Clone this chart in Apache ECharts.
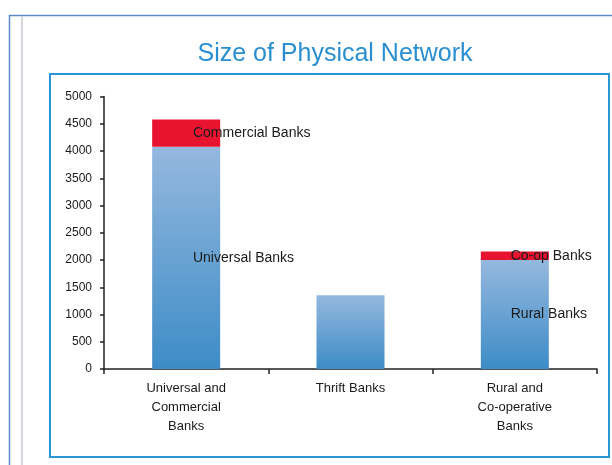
<!DOCTYPE html>
<html>
<head>
<meta charset="utf-8">
<script src="https://cdn.jsdelivr.net/npm/echarts@6/dist/echarts.min.js"></script>
<style>html,body{margin:0;padding:0;background:#fff}#c{width:612px;height:465px}</style>
</head>
<body>
<div id="c"></div>
<script>
const categories = ['Universal and\nCommercial\nBanks', 'Thrift Banks', 'Rural and\nCo-operative\nBanks'];
const baseValues = [4080, 1355, 2000];
const topValues = [500, null, 155];
const baseLabels = ['Universal Banks', '', 'Rural Banks'];
const topLabels = ['Commercial Banks', '', 'Co-op Banks'];
const yTicks = [0, 500, 1000, 1500, 2000, 2500, 3000, 3500, 4000, 4500, 5000];

const labelX = ['60%', '50%', '44%'];
const FONT = '"Liberation Sans", Arial, sans-serif';

function mkData(vals, labels) {
  return vals.map((v, i) => ({
    value: v,
    label: labels[i] ? {
      show: true,
      formatter: labels[i],
      position: [labelX[i], '50%'],
      align: 'left',
      verticalAlign: 'middle',
      color: '#1a1a1a',
      fontSize: 14,
      fontFamily: FONT
    } : { show: false }
  }));
}

const chart = echarts.init(document.getElementById('c'), null, { renderer: 'canvas' });
chart.setOption({
  animation: false,
  backgroundColor: '#fff',
  title: {
    text: 'Size of Physical Network',
    left: 330,
    top: 37,
    textAlign: 'center',
    textStyle: { color: '#2a8fd0', fontSize: 25, fontWeight: 'normal', fontFamily: FONT }
  },
  graphic: [
    { type: 'rect', shape: { x: 9.5, y: 15.5, width: 640, height: 480 }, style: { fill: 'none', stroke: '#5b8bc9', lineWidth: 1.5 }, silent: true, z: -10 },
    { type: 'line', shape: { x1: 22, y1: 16, x2: 22, y2: 470 }, style: { stroke: '#d3d8de', lineWidth: 2 }, silent: true, z: -10 },
    { type: 'rect', shape: { x: 50, y: 74, width: 559, height: 383 }, style: { fill: 'none', stroke: '#2b95d5', lineWidth: 2 }, silent: true, z: -10 }
  ],
  grid: { left: 104, right: 15, top: 96.5, bottom: 96, containLabel: false },
  xAxis: {
    type: 'category',
    data: categories,
    axisLine: { lineStyle: { color: '#222', width: 1.5 } },
    axisTick: { show: true, length: 5, lineStyle: { color: '#222', width: 1.5 } },
    axisLabel: { color: '#1a1a1a', fontSize: 13, fontFamily: FONT, lineHeight: 19, margin: 10, interval: 0 }
  },
  yAxis: {
    type: 'value',
    min: 0,
    max: 5000,
    interval: 500,
    splitLine: { show: false },
    axisLine: { show: true, lineStyle: { color: '#222', width: 1.5 } },
    axisTick: { show: true, length: 4, lineStyle: { color: '#222', width: 1.5 } },
    axisLabel: { color: '#1a1a1a', fontSize: 12, fontFamily: FONT, margin: 12,
      formatter: v => yTicks.includes(v) ? String(v) : '' }
  },
  series: [
    {
      type: 'bar',
      stack: 'a',
      barWidth: 68,
      data: mkData(baseValues, baseLabels),
      itemStyle: {
        color: new echarts.graphic.LinearGradient(0, 0, 0, 1, [
          { offset: 0, color: '#95b8de' },
          { offset: 1, color: '#3d8cc7' }
        ])
      }
    },
    {
      type: 'bar',
      stack: 'a',
      barWidth: 68,
      data: mkData(topValues, topLabels),
      itemStyle: { color: '#e8142f' }
    }
  ]
});
</script>
</body>
</html>
